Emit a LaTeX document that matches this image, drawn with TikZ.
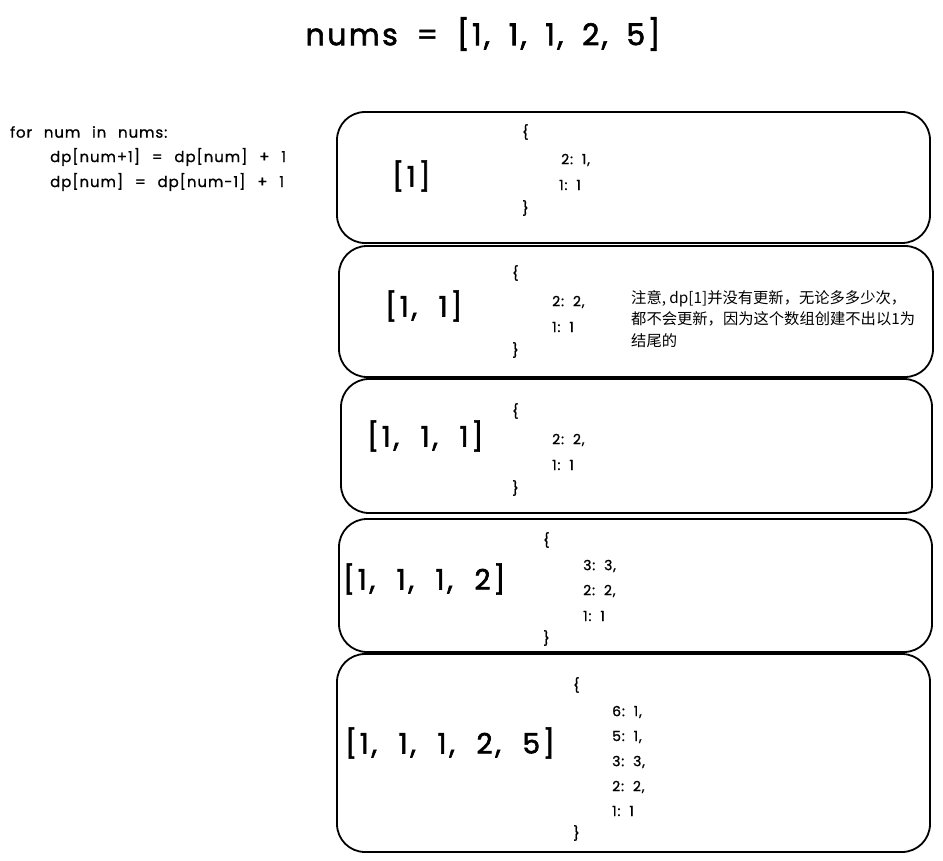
\documentclass[tikz,border=0pt]{standalone}
\usepackage{fontspec}
\setmainfont{Poppins}[LetterSpace=6,WordSpace=1.6]
\newfontfamily\bigfont{Poppins}[LetterSpace=10,WordSpace=2.1,FakeBold=2]
\newfontfamily\titlefont{Poppins}[LetterSpace=8,WordSpace=1.8,FakeBold=2]
\newfontfamily\codefont{Poppins}[LetterSpace=6,WordSpace=2.4,FakeBold=0.8]
\newfontfamily\kvfont{Poppins}[LetterSpace=6,WordSpace=1.6,FakeBold=1]
\newfontfamily\cjk{Noto Sans CJK SC}
\begin{document}
\begin{tikzpicture}[x=1pt,y=-1pt,
  box/.style={draw=black,line width=1.8pt,rounded corners=28pt},
  big/.style={font=\bigfont\fontsize{28}{30}\selectfont,anchor=west,inner sep=0pt},
  kv/.style={font=\kvfont\fontsize{14}{16}\selectfont,anchor=west,inner sep=0pt},
  code/.style={font=\codefont\fontsize{15}{17}\selectfont,anchor=west,inner sep=0pt},
  note/.style={font=\cjk\fontsize{15.3}{21.5}\selectfont,anchor=north west,inner sep=0pt,align=left}]
\useasboundingbox (0,0) rectangle (943,861);
\node[font=\titlefont\fontsize{30}{32}\selectfont,inner sep=0pt] (title) at (483,34) {nums = [1, 1, 1, 2, 5]};
\node[code] (c1) at (10,132) {for num in nums:};
\node[code] (c2) at (50,157) {dp[num+1] = dp[num] + 1};
\node[code] (c3) at (50,182) {dp[num] = dp[num-1] + 1};
% boxes
\draw[box] (337,112) rectangle (930,243);
\draw[box] (339,246) rectangle (933,377);
\draw[box] (341,379) rectangle (932,513);
\draw[box] (339,519) rectangle (932,652);
\draw[box] (337,654) rectangle (930,852);
% box1
\node[big] (a1) at (392,176) {[1]};
\node[kv] (o1) at (522,132) {\{};
\node[kv] (k11) at (561,160) {2: 1,};
\node[kv] (k12) at (559,185) {1: 1};
\node[kv] (e1) at (522,208) {\}};
% box2
\node[big] (a2) at (385,306) {[1, 1]};
\node[kv] (o2) at (512,273) {\{};
\node[kv] (k21) at (552,302) {2: 2,};
\node[kv] (k22) at (552,327) {1: 1};
\node[kv] (e2) at (512,350) {\}};
\node[note] (n2) at (631,290) {注意, dp[1]并没有更新，无论多多少次，\\都不会更新，因为这个数组创建不出以1为\\结尾的};
% box3
\node[big] (a3) at (367,436) {[1, 1, 1]};
\node[kv] (o3) at (512,411) {\{};
\node[kv] (k31) at (552,440) {2: 2,};
\node[kv] (k32) at (552,465) {1: 1};
\node[kv] (e3) at (512,488) {\}};
% box4
\node[big] (a4) at (343,579) {[1, 1, 1, 2]};
\node[kv] (o4) at (543,540) {\{};
\node[kv] (k41) at (583,566) {3: 3,};
\node[kv] (k42) at (583,591) {2: 2,};
\node[kv] (k43) at (583,616) {1: 1};
\node[kv] (e4) at (543,638) {\}};
% box5
\node[big] (a5) at (345,743) {[1, 1, 1, 2, 5]};
\node[kv] (o5) at (573,685) {\{};
\node[kv] (k51) at (612,712) {6: 1,};
\node[kv] (k52) at (612,737) {5: 1,};
\node[kv] (k53) at (612,762) {3: 3,};
\node[kv] (k54) at (612,787) {2: 2,};
\node[kv] (k55) at (612,811) {1: 1};
\node[kv] (e5) at (573,833) {\}};
\end{tikzpicture}
\end{document}
